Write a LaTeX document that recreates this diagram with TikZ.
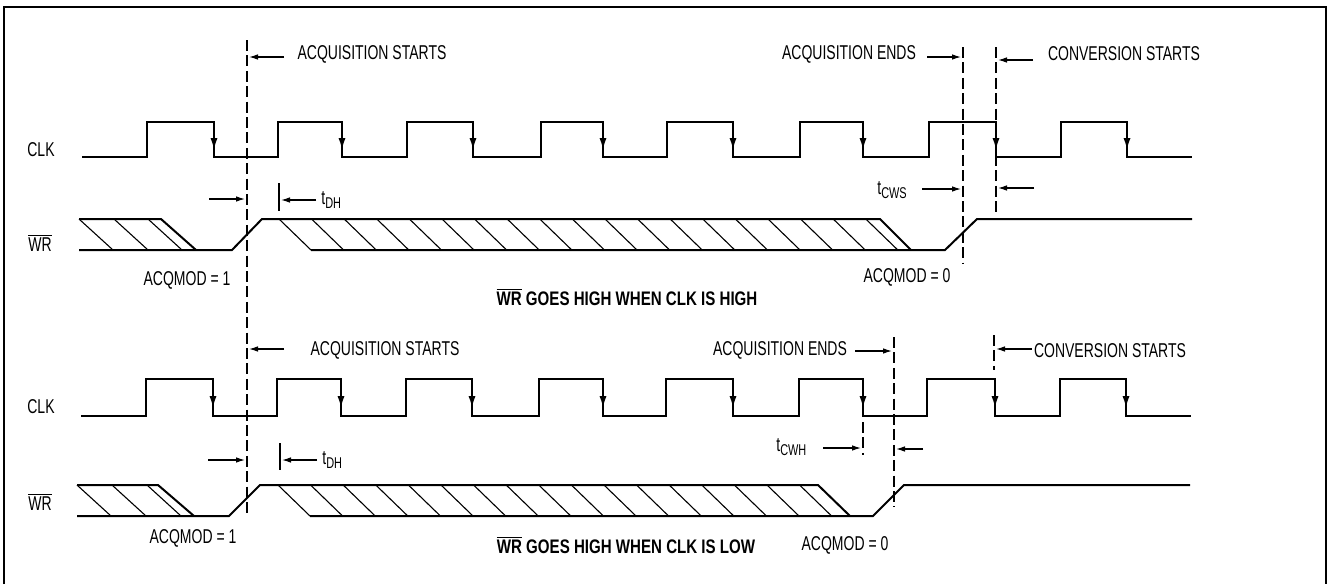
\documentclass[tikz,border=0pt]{standalone}
\usepackage{fontspec}
\setmainfont[FakeStretch=0.7]{Liberation Sans}
\newfontfamily\capfont[FakeStretch=0.77]{Liberation Sans}
\usetikzlibrary{arrows.meta}
\usetikzlibrary{positioning}

\newcommand{\wrbar}{$\overline{\mbox{WR}}$}
\newcommand{\tsub}[1]{t\raisebox{-0.35ex}{\fontsize{7.8}{8}\selectfont #1}}

\tikzset{
	wave/.style={line width=1pt,line join=miter},
	hatch/.style={line width=0.55pt},
	marker/.style={line width=0.7pt,dash pattern=on 5.5pt off 2.2pt},
	timearrow/.style={line width=0.6pt,-{Latex[length=4.5pt,width=2.8pt]}},
	clkarrow/.style={line width=1pt,-{Latex[length=6pt,width=3.6pt]}},
	lbl/.style={font=\fontsize{10}{11}\selectfont,inner sep=0pt},
	caption/.style={font=\capfont\bfseries\fontsize{9.8}{11}\selectfont,inner sep=0pt}
}

\begin{document}
\begin{tikzpicture}[x=0.5pt,y=-0.5pt]
	\useasboundingbox (0,0) rectangle (1328,584);
	% frame
	\draw[line width=1.4pt] (4,584) -- (4,7) -- (1326,7) -- (1326,584);

	% ---------- WR goes high when CLK is high ----------
	% clock
	\draw[wave] (82,157) \foreach \r/\f in {147/214,278/342,407/473,541/603,667/733,800/863,929/996,1061/1127}
		{ -- (\r,157) -- (\r,122) -- (\f,122) -- (\f,157) } -- (1192,157);
	\foreach \f in {214,342,473,603,733,863,996,1127} \draw[clkarrow] (\f,122) -- (\f,150);

	% WR
	\draw[wave] (79,219) -- (161,219) -- (196,250);
	\draw[wave] (79,250) -- (232,250) -- (262,219) -- (880,219) -- (911,250);
	\draw[wave] (311,250) -- (945,250) -- (977,219) -- (1192,219);
	\foreach \x in {79,114,148} \draw[hatch] (\x,219) -- (\x+34,250);
	\foreach \k in {0,...,18} \draw[hatch] (279+32.6*\k,219) -- (311+32.6*\k,250);

	% markers
	\coordinate (start) at (247,40);
	\draw[marker] (start) -- (247,517);
	\draw[marker] (963,47) -- (963,263);
	\draw[marker] (996,47) -- (996,212);
	\draw[line width=0.7pt] (279,183) -- (279,211);

	% labels
	\node[lbl] (clk1) at (41,150) {CLK};
	\node[lbl] (wr1) at (40,243) {\wrbar};
	\node[lbl] (acqstart1) at (372,54) {ACQUISITION STARTS};
	\node[lbl] (acqend1) at (849,54) {ACQUISITION ENDS};
	\node[lbl] (convstart1) at (1124,54) {CONVERSION STARTS};
	\node[lbl,anchor=west] (tdh1) at (321,200) {\tsub{DH}};
	\node[lbl,anchor=west] (tcws) at (877,190) {\tsub{CWS}};
	\node[lbl] (acqmod1a) at (187,280) {ACQMOD = 1};
	\node[lbl] (acqmod1b) at (907,277) {ACQMOD = 0};
	\node[caption] (cap1) at (627,297) {\wrbar\ GOES HIGH WHEN CLK IS HIGH};

	% arrows
	\draw[timearrow] (284,57) -- (249,57);
	\draw[timearrow] (927,57) -- (961,57);
	\draw[timearrow] (1033,60) -- (998,60);
	\draw[timearrow] (209,199) -- (245,199);
	\draw[timearrow] (316,200) -- (281,200);
	\draw[timearrow] (922,189) -- (961,189);
	\draw[timearrow] (1034,188) -- (998,188);

	% ---------- WR goes high when CLK is low ----------
	% clock
	\draw[wave] (81,416) \foreach \r/\f in {146/213,277/341,406/472,539/603,666/733,799/863,927/995,1060/1126}
		{ -- (\r,416) -- (\r,379) -- (\f,379) -- (\f,416) } -- (1191,416);
	\foreach \f in {213,341,472,603,733,863,995,1126} \draw[clkarrow] (\f,379) -- (\f,408);

	% WR
	\draw[wave] (77,485) -- (158,485) -- (194,516);
	\draw[wave] (77,516) -- (229,516) -- (260,485) -- (818,485) -- (850,516);
	\draw[wave] (310,516) -- (873,516) -- (904,485) -- (1190,485);
	\foreach \x in {77,112,147} \draw[hatch] (\x,485) -- (\x+34,516);
	\foreach \k in {0,...,16} \draw[hatch] (278+32.6*\k,485) -- (310+32.6*\k,516);

	% markers
	\draw[marker] (894,337) -- (894,507);
	\draw[marker] (994,335) -- (994,370);
	\draw[marker] (863,422) -- (863,455);
	\draw[line width=0.7pt] (280,443) -- (280,470);

	% labels
	\node[lbl] (clk2) at (41,407) {CLK};
	\node[lbl] (wr2) at (40,502) {\wrbar};
	\node[lbl] (acqstart2) at (385,350) {ACQUISITION STARTS};
	\node[lbl] (acqend2) at (780,350) {ACQUISITION ENDS};
	\node[lbl] (convstart2) at (1110,351) {CONVERSION STARTS};
	\node[lbl,anchor=west] (tdh2) at (322,460) {\tsub{DH}};
	\node[lbl,anchor=west] (tcwh) at (776,447) {\tsub{CWH}};
	\node[lbl] (acqmod2a) at (193,538) {ACQMOD = 1};
	\node[lbl] (acqmod2b) at (845,545) {ACQMOD = 0};
	\node[caption] (cap2) at (626,545) {\wrbar\ GOES HIGH WHEN CLK IS LOW};

	% arrows
	\draw[timearrow] (284,349) -- (249,349);
	\draw[timearrow] (855,351) -- (892,351);
	\draw[timearrow] (1032,349) -- (996,349);
	\draw[timearrow] (208,460) -- (245,460);
	\draw[timearrow] (317,460) -- (282,460);
	\draw[timearrow] (823,448) -- (861,448);
	\draw[timearrow] (923,449) -- (896,449);
\end{tikzpicture}
\end{document}
